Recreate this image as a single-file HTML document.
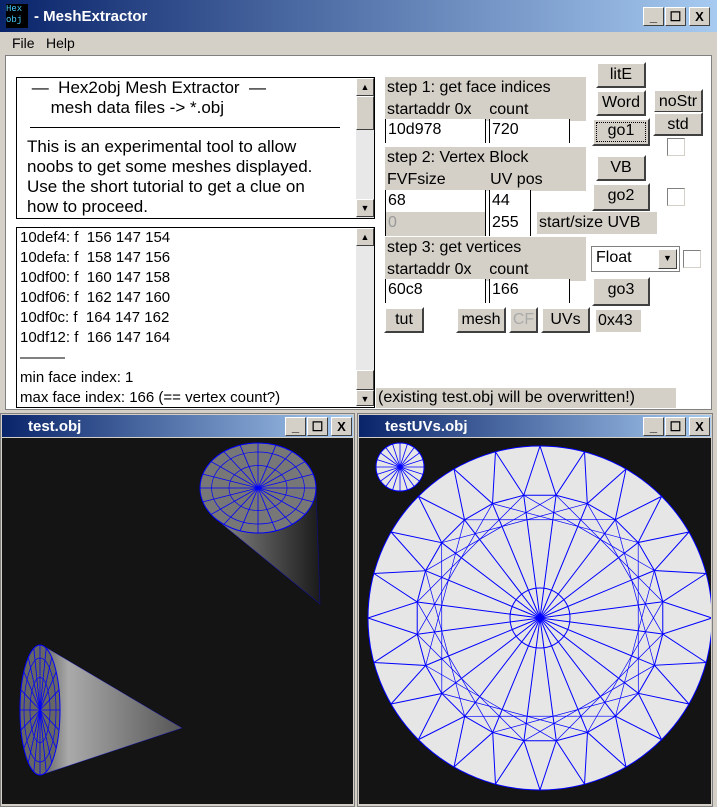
<!DOCTYPE html>
<html><head><meta charset="utf-8">
<style>
*{box-sizing:border-box}
body{margin:0;width:717px;height:807px;background:#d4d0c8;font-family:"Liberation Sans",sans-serif;position:relative;overflow:hidden}
.a{position:absolute}
.tb{background:linear-gradient(90deg,#0a246a,#a6caf0);color:#fff;font-weight:bold;font-size:15px}
.wb{background:#d4d0c8;border:1px solid;border-color:#fff #404040 #404040 #fff;width:21px;height:19px;font-size:13px;text-align:center;line-height:17px;color:#000;font-weight:bold}
.lbl{background:#d4d0c8;font-size:16px;color:#000;line-height:22px;padding-left:2px}
.in{background:#fff;font-size:16px;border-left:1px solid #000;border-right:1px solid #000;padding-left:2px;line-height:22px;height:24px}
.btn{background:#d4d0c8;border:2px solid;border-color:#fff #404040 #404040 #fff;font-size:16px;text-align:center;line-height:22px}
.cb{background:#fff;border:1px solid;border-color:#808080 #d4d0c8 #d4d0c8 #808080;width:18px;height:18px}
.txt{font-size:16px;line-height:22px;color:#000}
.sb{background:#e8e8e8}
</style></head><body>
<div class="a tb" style="left:0;top:0;width:717px;height:32px;padding:8px 0 0 34px">- MeshExtractor</div>
<div class="a" style="left:6px;top:4px;width:22px;height:24px;background:#000;color:#4cf;font-size:9px;line-height:11px;font-family:'Liberation Mono',monospace">Hex<br>obj</div>
<div class="a wb" style="left:643px;top:7px">_</div>
<div class="a wb" style="left:665px;top:7px">☐</div>
<div class="a wb" style="left:689px;top:7px">X</div>
<div class="a txt" style="left:12px;top:32px;font-size:14px">File</div>
<div class="a txt" style="left:46px;top:32px;font-size:14px">Help</div>
<div class="a" style="left:5px;top:55px;width:707px;height:355px;background:#fff;border:1px solid #808080"></div>

<div class="a" style="left:16px;top:77px;width:359px;height:142px;border:1px solid #000;background:#fff"></div>
<div class="a txt" style="left:27px;top:78px;width:300px;font-size:17px;line-height:20px">&nbsp;—&nbsp;&nbsp;Hex2obj Mesh Extractor&nbsp;&nbsp;—<br>&nbsp;&nbsp;&nbsp;&nbsp;&nbsp;mesh data files -&gt; *.obj
<div style="border-top:1px solid #000;margin:9px 0 9px 3px;width:310px"></div>This is an experimental tool to allow noobs to get some meshes displayed. Use the short tutorial to get a clue on how to proceed.</div>
<div class="a sb" style="left:356px;top:78px;width:18px;height:140px"></div>
<div class="a wb" style="left:356px;top:78px;width:18px;height:18px;font-size:9px">▲</div>
<div class="a wb" style="left:356px;top:96px;width:18px;height:34px"></div>
<div class="a wb" style="left:356px;top:199px;width:18px;height:18px;font-size:9px">▼</div>

<div class="a" style="left:16px;top:227px;width:359px;height:181px;border:1px solid #000;background:#fff"></div>
<div class="a txt" style="left:20px;top:228px;font-size:15px;line-height:20px">10def4: f&nbsp; 156 147 154<br>10defa: f&nbsp; 158 147 156<br>10df00: f&nbsp; 160 147 158<br>10df06: f&nbsp; 162 147 160<br>10df0c: f&nbsp; 164 147 162<br>10df12: f&nbsp; 166 147 164<br>———<br>min face index: 1<br>max face index: 166 (== vertex count?)</div>
<div class="a sb" style="left:356px;top:228px;width:18px;height:178px"></div>
<div class="a wb" style="left:356px;top:228px;width:18px;height:18px;font-size:9px">▲</div>
<div class="a wb" style="left:356px;top:370px;width:18px;height:20px"></div>
<div class="a wb" style="left:356px;top:390px;width:18px;height:16px;font-size:9px">▼</div>

<div class="a lbl" style="left:385px;top:77px;width:201px;height:44px">step 1: get face indices<br>startaddr 0x&nbsp;&nbsp;&nbsp;&nbsp;count</div>
<div class="a in" style="left:385px;top:119px;width:101px">10d978</div>
<div class="a in" style="left:489px;top:119px;width:81px">720</div>
<div class="a lbl" style="left:385px;top:147px;width:201px;height:44px">step 2: Vertex Block<br>FVFsize&nbsp;&nbsp;&nbsp;&nbsp;&nbsp;&nbsp;&nbsp;&nbsp;&nbsp;&nbsp;UV pos</div>
<div class="a in" style="left:385px;top:190px;width:101px">68</div>
<div class="a in" style="left:489px;top:190px;width:42px">44</div>
<div class="a in" style="left:385px;top:212px;width:101px;background:#d4d0c8;color:#999">0</div>
<div class="a in" style="left:489px;top:212px;width:42px">255</div>
<div class="a lbl" style="left:537px;top:212px;width:120px;height:22px">start/size UVB</div>
<div class="a lbl" style="left:385px;top:237px;width:201px;height:44px">step 3: get vertices<br>startaddr 0x&nbsp;&nbsp;&nbsp;&nbsp;count</div>
<div class="a in" style="left:385px;top:279px;width:101px">60c8</div>
<div class="a in" style="left:489px;top:279px;width:81px">166</div>

<div class="a btn" style="left:596px;top:62px;width:50px;height:26px">litE</div>
<div class="a btn" style="left:596px;top:90px;width:50px;height:26px">Word</div>
<div class="a btn" style="left:653px;top:89px;width:50px;height:24px">noStr</div>
<div class="a btn" style="left:592px;top:118px;width:58px;height:28px;outline:1px dotted #000;outline-offset:-5px">go1</div>
<div class="a btn" style="left:653px;top:112px;width:50px;height:24px">std</div>
<div class="a cb" style="left:667px;top:138px"></div>
<div class="a btn" style="left:596px;top:155px;width:50px;height:26px">VB</div>
<div class="a btn" style="left:592px;top:183px;width:58px;height:28px">go2</div>
<div class="a cb" style="left:667px;top:188px"></div>
<div class="a" style="left:591px;top:246px;width:89px;height:26px;background:#fff;border:1px solid #808080;font-size:16px;padding:2px 0 0 4px">Float<div class="a wb" style="left:66px;top:2px;width:19px;height:20px;font-size:9px">▼</div></div>
<div class="a cb" style="left:683px;top:250px"></div>
<div class="a btn" style="left:592px;top:277px;width:58px;height:29px">go3</div>
<div class="a btn" style="left:384px;top:307px;width:40px;height:26px">tut</div>
<div class="a btn" style="left:456px;top:307px;width:50px;height:26px">mesh</div>
<div class="a btn" style="left:509px;top:307px;width:29px;height:26px;color:#aaa">CF</div>
<div class="a btn" style="left:541px;top:307px;width:49px;height:26px">UVs</div>
<div class="a lbl" style="left:596px;top:310px;width:45px;height:22px">0x43</div>
<div class="a lbl" style="left:376px;top:388px;width:300px;height:20px;line-height:20px">(existing test.obj will be overwritten!)</div>

<div class="a" style="left:0;top:413px;width:355px;height:394px;background:#d4d0c8;border:1px solid #808080"></div>
<div class="a tb" style="left:2px;top:415px;width:351px;height:22px;padding:3px 0 0 26px">test.obj</div>
<div class="a wb" style="left:285px;top:417px">_</div>
<div class="a wb" style="left:307px;top:417px">☐</div>
<div class="a wb" style="left:331px;top:417px">X</div>
<svg class="a" style="left:2px;top:438px" width="351" height="366">
<rect width="351" height="366" fill="#141414"/>
<defs><linearGradient id="g1" x1="0" x2="1"><stop offset="0" stop-color="#999"/><stop offset="1" stop-color="#1a1a1a"/></linearGradient>
<linearGradient id="g2" x1="0" x2="1"><stop offset="0" stop-color="#222"/><stop offset="0.3" stop-color="#aaa"/><stop offset="1" stop-color="#555"/></linearGradient></defs>
<g id="cone1"></g><g id="cone2"></g>
</svg>
<div class="a" style="left:357px;top:413px;width:356px;height:394px;background:#d4d0c8;border:1px solid #808080"></div>
<div class="a tb" style="left:359px;top:415px;width:352px;height:22px;padding:3px 0 0 26px">testUVs.obj</div>
<div class="a wb" style="left:643px;top:417px">_</div>
<div class="a wb" style="left:665px;top:417px">☐</div>
<div class="a wb" style="left:689px;top:417px">X</div>
<svg class="a" style="left:359px;top:438px" width="352" height="366">
<rect width="352" height="366" fill="#141414"/><g id="uv"></g>
</svg>
<script>
function P(cx,cy,rx,ry,n,a0){var p=[];for(var i=0;i<n;i++){var t=a0+i*2*Math.PI/n;p.push([cx+rx*Math.cos(t),cy+ry*Math.sin(t)]);}return p;}
function hull(pts){pts=pts.slice().sort((a,b)=>a[0]-b[0]||a[1]-b[1]);function cr(o,a,b){return (a[0]-o[0])*(b[1]-o[1])-(a[1]-o[1])*(b[0]-o[0]);}
var lo=[],up=[];pts.forEach(p=>{while(lo.length>=2&&cr(lo[lo.length-2],lo[lo.length-1],p)<=0)lo.pop();lo.push(p);});
pts.slice().reverse().forEach(p=>{while(up.length>=2&&cr(up[up.length-2],up[up.length-1],p)<=0)up.pop();up.push(p);});
lo.pop();up.pop();return lo.concat(up);}
function cone(g,cx,cy,rx,ry,ax,ay,fill,cap){var p=P(cx,cy,rx,ry,40,0),s='';
var h=hull(p.concat([[ax,ay]]));
s+='<polygon points="'+h.map(q=>q.join(',')).join(' ')+'" fill="'+fill+'"/>';
s+='<ellipse cx="'+cx+'" cy="'+cy+'" rx="'+rx+'" ry="'+ry+'" fill="'+cap+'" stroke="#00f" stroke-width="1"/>';
P(cx,cy,rx,ry,20,0).forEach((q,i)=>{s+='<line x1="'+cx+'" y1="'+cy+'" x2="'+q[0]+'" y2="'+q[1]+'" stroke="#00f" stroke-width="0.8"/>';});
h.forEach(q=>{if(q[0]!==ax)s+='';});
[0.5,0.8].forEach(k=>{s+='<ellipse cx="'+cx+'" cy="'+cy+'" rx="'+rx*k+'" ry="'+ry*k+'" fill="none" stroke="#00f" stroke-width="0.7"/>';});
s+='<polyline points="'+h.map(q=>q.join(',')).join(' ')+'" fill="none" stroke="#00f" stroke-width="0.6" opacity="0.5"/>';
document.getElementById(g).innerHTML=s;}
cone('cone1',256,50,58,45,318,166,'url(#g1)','#777');
cone('cone2',38,272,20,65,180,290,'url(#g2)','#666');
(function(){var s='',cx=181,cy=180,R=172;
s+='<circle cx="'+cx+'" cy="'+cy+'" r="'+R+'" fill="#e6e6e6" stroke="#00f"/>';
var o=P(cx,cy,R,R,24,0),m=P(cx,cy,R*0.72,R*0.72,24,0.13);
s+='<polygon points="'+m.map(q=>q.join(',')).join(' ')+'" fill="none" stroke="#00f"/>';
s+='<circle cx="'+cx+'" cy="'+cy+'" r="30" fill="none" stroke="#00f"/>';
for(var i=0;i<24;i++){var a=o[i],b=o[(i+1)%24],c=m[i];
s+='<polyline points="'+a+' '+c+' '+b+'" fill="none" stroke="#00f"/>';
s+='<line x1="'+cx+'" y1="'+cy+'" x2="'+c[0]+'" y2="'+c[1]+'" stroke="#00f"/>';
s+='<line x1="'+m[(i+5)%24][0]+'" y1="'+m[(i+5)%24][1]+'" x2="'+c[0]+'" y2="'+c[1]+'" stroke="#00f" stroke-width="0.7"/>';}
s+='<circle cx="41" cy="29" r="24" fill="#e6e6e6" stroke="#00f"/>';
P(41,29,24,24,20,0).forEach(q=>{s+='<line x1="41" y1="29" x2="'+q[0]+'" y2="'+q[1]+'" stroke="#00f" stroke-width="0.8"/>';});
document.getElementById('uv').innerHTML=s;})();
</script>
</body></html>
